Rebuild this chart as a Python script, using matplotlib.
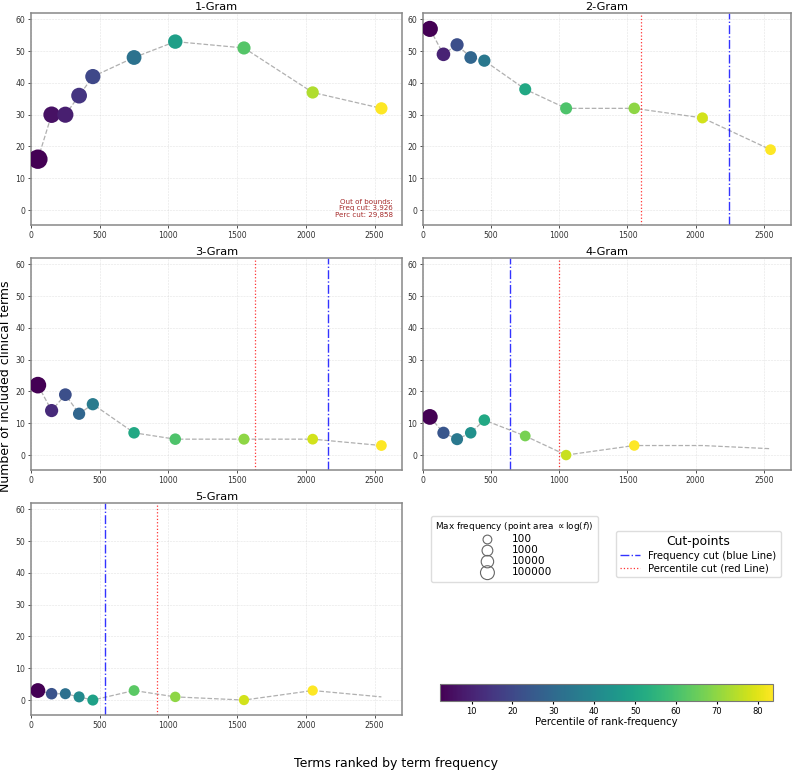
import matplotlib
matplotlib.use("Agg")
import matplotlib.pyplot as plt
import numpy as np
from matplotlib.lines import Line2D

# ---------------------------------------------------------------------------
# Data
x_bins = [50, 150, 250, 350, 450, 750, 1050, 1550, 2050, 2550]

counts_1 = [16, 30, 30, 36, 42, 48, 53, 51, 37, 32]
counts_2 = [57, 49, 52, 48, 47, 38, 32, 32, 29, 19]
counts_3 = [22, 14, 19, 13, 16, 7, 5, 5, 5, 3]
counts_4 = [12, 7, 5, 7, 11, 6, 0, 3, 3, 2]
counts_5 = [3, 2, 2, 1, 0, 3, 1, 0, 3, 1]

# percentile of rank-frequency (colour), nan = no marker drawn
perc_1 = [2.3, 6, 9, 15, 20, 33, 48, 62, 74, 83.7]
perc_2 = [2.3, 10, 22, 29, 35, 51, 61, 70, 78, 83.7]
perc_3 = [2.3, 12, 22, 29, 36, 51, 61, 70, 78, 83.7]
perc_4 = [2.3, 24, 35, 43, 51, 67, 77, 83.7, np.nan, np.nan]
perc_5 = [2.3, 23, 32, 41, 49, 63, 70, 78, 83.7, np.nan]

# max frequency inside each bin (marker area ~ log f)
freq_1 = [3_200_000, 50_000, 32_000, 20_000, 10_000, 6_300, 4_000, 1_000, 400, 400]
freq_2 = [32_000, 1_600, 1_000, 630, 400, 320, 320, 200, 130, 100]
freq_3 = [63_000, 1_000, 630, 400, 400, 200, 200, 130, 100, 100]
freq_4 = [20_000, 400, 320, 200, 200, 100, 80, 80, 1, 1]
freq_5 = [6_300, 200, 130, 130, 130, 100, 80, 63, 63, 1]

# cut-points (None = out of axis range)
freq_cuts = [None, 2245, 2160, 636, 540]
perc_cuts = [None, 1600, 1632, 996, 915]

titles = ["1-Gram", "2-Gram", "3-Gram", "4-Gram", "5-Gram"]
legend_freqs = [100, 1000, 10000, 100000]
cbar_ticks = [10, 20, 30, 40, 50, 60, 70, 80]
# ---------------------------------------------------------------------------

counts = [counts_1, counts_2, counts_3, counts_4, counts_5]
percs = [perc_1, perc_2, perc_3, perc_4, perc_5]
freqs = [freq_1, freq_2, freq_3, freq_4, freq_5]

W, H = 793, 772
fig = plt.figure(figsize=(W / 100, H / 100), dpi=100)

SIZE_K = 30      # scatter area per decade of frequency
LEG_K = 20       # same for the size legend handles
vmin, vmax = 2.3, 83.7
norm = matplotlib.colors.Normalize(vmin=vmin, vmax=vmax)
cmap = plt.get_cmap("viridis")

# axes boxes in pixels: (left, top, width, height)
boxes = [(31, 13, 371, 212), (423, 13, 368, 212),
         (31, 258, 371, 212), (423, 258, 368, 212),
         (31, 503, 371, 212)]

for i in range(5):
    l, t, w, h = boxes[i]
    ax = fig.add_axes([l / W, 1 - (t + h) / H, w / W, h / H])
    y = np.array(counts[i], dtype=float)
    p = np.array(percs[i], dtype=float)
    f = np.array(freqs[i], dtype=float)
    ax.plot(x_bins, y, ls="--", color="#b0b0b0", lw=0.9, zorder=1)
    ok = ~np.isnan(p)
    ax.scatter(np.array(x_bins)[ok], y[ok], c=p[ok], s=SIZE_K * np.log10(f[ok]),
               cmap=cmap, norm=norm, edgecolors="none", zorder=3)
    if freq_cuts[i] is not None:
        ax.axvline(freq_cuts[i], color="blue", ls="-.", lw=1.0, alpha=0.8, zorder=2)
    if perc_cuts[i] is not None:
        ax.axvline(perc_cuts[i], color="red", ls=":", lw=0.9, alpha=0.8, zorder=2)
    ax.set_xlim(0, 2700)
    ax.set_ylim(-4.7, 62)
    ax.set_xticks([0, 500, 1000, 1500, 2000, 2500])
    ax.set_yticks([0, 10, 20, 30, 40, 50, 60])
    ax.tick_params(labelsize=5.6, length=2.5, width=0.6, pad=1.5, colors="#333333")
    ax.grid(True, ls="--", lw=0.4, alpha=0.35)
    for s in ax.spines.values():
        s.set_color("#888888")
        s.set_linewidth(1.1)
    ax.set_title(titles[i], fontsize=8.2, pad=2)
    if i == 0:
        ax.text(0.976, 0.035, "Out of bounds:\nFreq cut: 3,926\nPerc cut: 29,858",
                transform=ax.transAxes, ha="right", va="bottom", fontsize=5.1,
                color="#a52a2a", linespacing=1.1)

# size legend
size_handles = [plt.scatter([], [], s=LEG_K * np.log10(v), facecolors="none",
                            edgecolors="#666666", linewidths=0.8) for v in legend_freqs]
leg1 = fig.legend(size_handles, [str(v) for v in legend_freqs],
                  title=r"Max frequency (point area $\propto \log(f)$)",
                  loc="upper left", bbox_to_anchor=(431 / W, 1 - 516 / H),
                  fontsize=7.6, title_fontsize=6.4, borderaxespad=0,
                  labelspacing=0.1, handletextpad=1.3, framealpha=1,
                  edgecolor="#dddddd")

# cut-point legend
cut_handles = [Line2D([], [], color="blue", ls="-.", lw=1.0, alpha=0.8),
               Line2D([], [], color="red", ls=":", lw=0.9, alpha=0.8)]
leg2 = fig.legend(cut_handles, ["Frequency cut (blue Line)", "Percentile cut (red Line)"],
                  title="Cut-points", loc="upper left", bbox_to_anchor=(616 / W, 1 - 531 / H),
                  fontsize=7.3, title_fontsize=8.9, borderaxespad=0, labelspacing=0.25,
                  framealpha=1, edgecolor="#dddddd")

# colorbar
cax = fig.add_axes([440 / W, 1 - 701 / H, 333 / W, 17.5 / H])
cb = fig.colorbar(matplotlib.cm.ScalarMappable(norm=norm, cmap=cmap), cax=cax,
                  orientation="horizontal")
cb.set_ticks(cbar_ticks)
cb.ax.tick_params(labelsize=6, length=2.5, pad=1.5)
cb.set_label("Percentile of rank-frequency", fontsize=7.3, labelpad=1)
cb.outline.set_edgecolor("#777777")

fig.text(0.5, 1 - 763 / H, "Terms ranked by term frequency", ha="center",
         va="center", fontsize=9)
fig.text(6 / W, 0.5, "Number of included clinical terms", ha="center",
         va="center", rotation=90, fontsize=9)

fig.savefig("out.png", dpi=100)
